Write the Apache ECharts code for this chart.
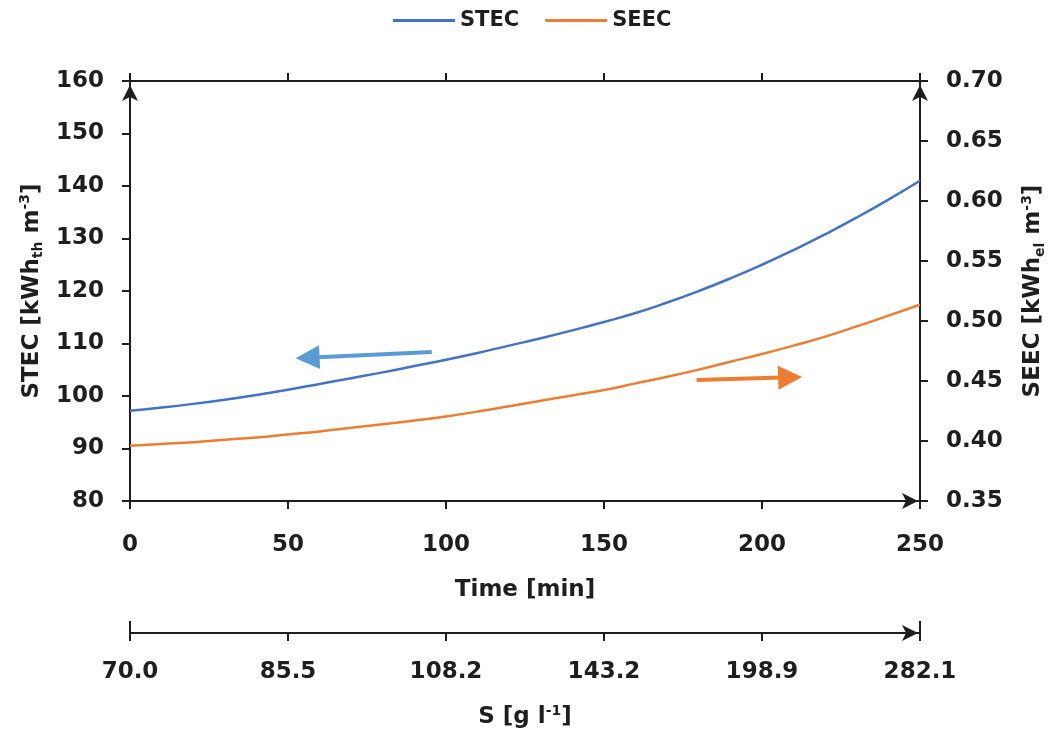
<!DOCTYPE html>
<html>
<head>
<meta charset="utf-8">
<script src="https://cdn.jsdelivr.net/npm/echarts@6/dist/echarts.min.js"></script>
<style>
  html, body { margin: 0; padding: 0; background: #fff; }
  #chart { width: 1055px; height: 729px; }
</style>
</head>
<body>
<div id="chart"></div>
<script>
// Time axis samples [min]
const timeMin = [0, 10, 20, 30, 40, 50, 60, 70, 80, 90, 100, 110, 120, 130, 140, 150, 160, 170, 180, 190, 200, 210, 220, 230, 240, 250];
// Specific thermal energy consumption [kWh_th m^-3]
const stec = [97.2, 97.8, 98.5, 99.3, 100.2, 101.2, 102.3, 103.4, 104.5, 105.7, 106.9, 108.2, 109.6, 111.0, 112.5, 114.1, 115.8, 117.8, 120.0, 122.4, 125.0, 127.8, 130.8, 134.0, 137.4, 141.0];
// Specific electrical energy consumption [kWh_el m^-3]
const seec = [0.396, 0.3975, 0.399, 0.401, 0.403, 0.4055, 0.408, 0.411, 0.414, 0.417, 0.4205, 0.4245, 0.429, 0.4335, 0.438, 0.4425, 0.448, 0.4535, 0.4595, 0.466, 0.4725, 0.4795, 0.487, 0.4955, 0.5045, 0.5135];
// Salt concentration S [g l^-1] reached at each time tick (0, 50, ... 250 min)
const sLabels = ['70.0', '85.5', '108.2', '143.2', '198.9', '282.1'];
// Pointer arrows telling which axis each curve belongs to: [start, end] in data units
const stecArrow = [[95.5, 108.4], [56.2, 107.3]];
const seecArrow = [[179.3, 0.4508], [208.9, 0.4531]];

const ink = '#1e1e1e';
const font = 'DejaVu Sans';
const lineBlue = '#4472C4';
const lineOrange = '#ED7D31';
const arrowBlue = '#5B9BD5';

const baseLine = { onZero: false, lineStyle: { color: ink, width: 2 } };
const arrowLine = {
  show: true,
  onZero: false,
  lineStyle: { color: ink, width: 2 },
  symbol: ['none', 'arrow'],
  symbolSize: [12, 16],
  symbolOffset: [0, -2]
};
const tick = (inside, len) => ({ show: true, inside: inside, length: len, lineStyle: { color: ink, width: 2 } });
const labelStyle = { color: ink, fontFamily: font, fontWeight: 'bold', fontSize: 23 };
const nameRich = {
  n: { color: ink, fontFamily: font, fontWeight: 'bold', fontSize: 23, lineHeight: 27 },
  sub: { color: ink, fontFamily: font, fontWeight: 'bold', fontSize: 14, verticalAlign: 'bottom', lineHeight: 27 },
  sup: { color: ink, fontFamily: font, fontWeight: 'bold', fontSize: 14, verticalAlign: 'top', lineHeight: 27 }
};

const chart = echarts.init(document.getElementById('chart'), null, { renderer: 'canvas' });

chart.setOption({
  animation: false,
  backgroundColor: '#fff',
  legend: {
    data: ['STEC', 'SEEC'],
    left: 388,
    top: 5,
    icon: 'rect',
    itemWidth: 62,
    itemHeight: 3,
    itemGap: 26,
    textStyle: { color: ink, fontFamily: font, fontWeight: 'bold', fontSize: 21 }
  },
  grid: { left: 130, right: 135, top: 81, bottom: 228, containLabel: false, outerBoundsMode: 'none' },
  xAxis: [
    {
      type: 'value', position: 'bottom', min: 0, max: 250, interval: 50,
      axisLine: arrowLine,
      axisTick: tick(false, 8),
      axisLabel: Object.assign({ margin: 33 }, labelStyle),
      splitLine: { show: false },
      name: 'Time [min]', nameLocation: 'middle', nameGap: 78,
      nameTextStyle: { color: ink, fontFamily: font, fontWeight: 'bold', fontSize: 23 }
    },
    {
      type: 'value', position: 'top', min: 0, max: 250, interval: 50,
      axisLine: baseLine,
      axisTick: tick(false, 8),
      axisLabel: { show: false },
      splitLine: { show: false }
    },
    {
      type: 'value', position: 'bottom', offset: 132, min: 0, max: 250, interval: 50,
      axisLine: arrowLine,
      axisTick: tick(false, 8),
      axisLabel: Object.assign({ margin: 28, formatter: v => sLabels[Math.round(v / 50)] }, labelStyle),
      splitLine: { show: false },
      name: '{n|S [g l}{sup|-1}{n|]}', nameLocation: 'middle', nameGap: 71,
      nameTextStyle: { rich: nameRich }
    },
    {
      // end marks of the concentration axis that cross the line
      type: 'value', position: 'bottom', offset: 132, min: 0, max: 250, interval: 250,
      axisLine: { show: false, onZero: false },
      axisTick: tick(true, 12),
      axisLabel: { show: false },
      splitLine: { show: false }
    }
  ],
  yAxis: [
    {
      type: 'value', position: 'left', min: 80, max: 160, interval: 10,
      axisLine: Object.assign({}, arrowLine, { symbolOffset: [0, -4] }),
      axisTick: tick(false, 8),
      axisLabel: Object.assign({ margin: 26 }, labelStyle),
      splitLine: { show: false },
      name: '{n|STEC [kWh}{sub|th}{n| m}{sup|-3}{n|]}', nameLocation: 'middle', nameGap: 84, nameRotate: 90,
      nameTextStyle: { rich: nameRich }
    },
    {
      type: 'value', position: 'right', min: 0.35, max: 0.70, interval: 0.05,
      axisLine: Object.assign({}, arrowLine, { symbolOffset: [0, -4] }),
      axisTick: tick(false, 8),
      axisLabel: Object.assign({ margin: 26, formatter: v => v.toFixed(2) }, labelStyle),
      splitLine: { show: false },
      name: '{n|SEEC [kWh}{sub|el}{n| m}{sup|-3}{n|]}', nameLocation: 'middle', nameGap: 100, nameRotate: 90,
      nameTextStyle: { rich: nameRich }
    }
  ],
  series: [
    {
      name: 'STEC', type: 'line', xAxisIndex: 0, yAxisIndex: 0,
      data: timeMin.map((t, i) => [t, stec[i]]),
      smooth: true, showSymbol: false,
      lineStyle: { color: lineBlue, width: 2.5 }, itemStyle: { color: lineBlue },
      markLine: {
        silent: true, symbol: ['none', 'triangle'], symbolSize: 24,
        label: { show: false },
        lineStyle: { color: arrowBlue, width: 4, type: 'solid' },
        itemStyle: { color: arrowBlue },
        data: [[{ coord: stecArrow[0] }, { coord: stecArrow[1] }]]
      }
    },
    {
      name: 'SEEC', type: 'line', xAxisIndex: 0, yAxisIndex: 1,
      data: timeMin.map((t, i) => [t, seec[i]]),
      smooth: true, showSymbol: false,
      lineStyle: { color: lineOrange, width: 2.5 }, itemStyle: { color: lineOrange },
      markLine: {
        silent: true, symbol: ['none', 'triangle'], symbolSize: 24,
        label: { show: false },
        lineStyle: { color: lineOrange, width: 4, type: 'solid' },
        itemStyle: { color: lineOrange },
        data: [[{ coord: seecArrow[0] }, { coord: seecArrow[1] }]]
      }
    }
  ]
});
</script>
</body>
</html>
